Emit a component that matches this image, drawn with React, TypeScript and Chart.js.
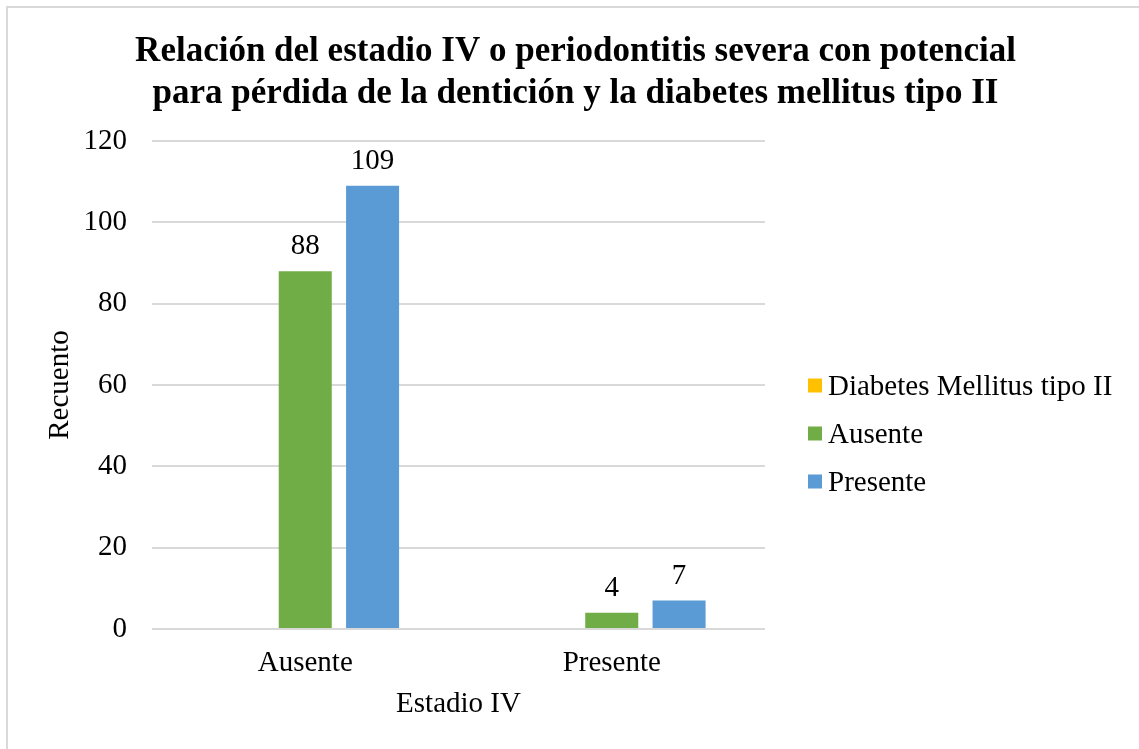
import React, { useEffect, useRef } from 'react';
import { Chart, registerables } from 'chart.js';

Chart.register(...registerables);

const categories = ['Ausente', 'Presente'];
const seriesNames = ['Diabetes Mellitus tipo II', 'Ausente', 'Presente'];
const diabetesValues: (number | null)[] = [null, null];
const ausenteValues: number[] = [88, 4];
const presenteValues: number[] = [109, 7];
const seriesColors = ['#FFC000', '#70AD47', '#5B9BD5'];
const yMin = 0;
const yMax = 120;
const yStep = 20;
const titleLines = [
  'Relación del estadio IV o periodontitis severa con potencial',
  'para pérdida de la dentición y la diabetes mellitus tipo II',
];
const xAxisTitle = 'Estadio IV';
const yAxisTitle = 'Recuento';

const FONT = "'Liberation Serif', 'Times New Roman', serif";

const valueLabelPlugin = {
  id: 'valueLabels',
  afterDatasetsDraw(chart: any) {
    const ctx = chart.ctx;
    ctx.save();
    ctx.font = `29px ${FONT}`;
    ctx.fillStyle = '#000';
    ctx.textAlign = 'center';
    ctx.textBaseline = 'alphabetic';
    chart.data.datasets.forEach((ds: any, i: number) => {
      const meta = chart.getDatasetMeta(i);
      meta.data.forEach((el: any, j: number) => {
        const v = ds.data[j];
        if (v === null || v === undefined) return;
        ctx.fillText(String(v), el.x, el.y - 17);
      });
    });
    ctx.restore();
  },
};

const legendPlugin = {
  id: 'sideLegend',
  afterDraw(chart: any) {
    const ctx = chart.ctx;
    const { right, top, bottom } = chart.chartArea;
    const startY = (top + bottom) / 2 + 0.5;
    ctx.save();
    ctx.font = `29px ${FONT}`;
    ctx.textAlign = 'left';
    ctx.textBaseline = 'alphabetic';
    chart.data.datasets.forEach((ds: any, i: number) => {
      const y = startY + i * 48;
      ctx.fillStyle = ds.backgroundColor;
      ctx.fillRect(right + 43, y - 7, 14, 14);
      ctx.fillStyle = '#000';
      ctx.fillText(ds.label, right + 63, y + 9.6);
    });
    ctx.restore();
  },
};

const titlePlugin = {
  id: 'wideTitle',
  afterDraw(chart: any) {
    const ctx = chart.ctx;
    const cx = (12 + chart.width) / 2;
    ctx.save();
    ctx.font = `bold 35px ${FONT}`;
    ctx.fillStyle = '#000';
    ctx.textAlign = 'center';
    ctx.textBaseline = 'alphabetic';
    titleLines.forEach((line, i) => {
      ctx.fillText(line, cx, 61 + i * 42);
    });
    ctx.restore();
  },
};

export default function App() {
  const canvasRef = useRef<HTMLCanvasElement | null>(null);

  useEffect(() => {
    if (!canvasRef.current) return;
    const chart = new Chart(canvasRef.current, {
      type: 'bar',
      data: {
        labels: categories,
        datasets: [
          { label: seriesNames[0], data: diabetesValues, backgroundColor: seriesColors[0] },
          { label: seriesNames[1], data: ausenteValues, backgroundColor: seriesColors[1] },
          { label: seriesNames[2], data: presenteValues, backgroundColor: seriesColors[2] },
        ],
      },
      options: {
        responsive: false,
        animation: false,
        devicePixelRatio: 1,
        layout: { padding: { left: 12, right: 374, top: 141, bottom: 0 } },
        datasets: {
          bar: { categoryPercentage: 0.659, barPercentage: 0.7875 },
        },
        plugins: {
          legend: { display: false },
          tooltip: { enabled: false },
          title: { display: false },
        },
        scales: {
          x: {
            grid: { display: false, drawTicks: false, tickLength: 0 },
            border: { display: false },
            ticks: { color: '#000', font: { family: FONT, size: 29 }, padding: 17 },
            title: {
              display: true,
              text: xAxisTitle,
              color: '#000',
              font: { family: FONT, size: 29 },
              padding: { top: 0, bottom: 27.4 },
            },
            afterFit(scale: any) {
              scale.height = 120;
            },
          },
          y: {
            min: yMin,
            max: yMax,
            grid: { color: '#d9d9d9', lineWidth: 2, drawTicks: false, tickLength: 0 },
            border: { display: false },
            ticks: { stepSize: yStep, color: '#000', font: { family: FONT, size: 29 }, padding: 25 },
            title: {
              display: true,
              text: yAxisTitle,
              color: '#000',
              font: { family: FONT, size: 29 },
              padding: { top: 30.6, bottom: 0 },
            },
            afterFit(scale: any) {
              scale.width = 140;
            },
          },
        },
      } as any,
      plugins: [valueLabelPlugin, legendPlugin, titlePlugin],
    });
    return () => chart.destroy();
  }, []);

  return (
    <div
      style={{
        position: 'fixed',
        left: 0,
        top: 0,
        width: 1139,
        height: 749,
        overflow: 'hidden',
        background: '#fff',
      }}
    >
      <div
        style={{
          position: 'absolute',
          left: 6,
          top: 6,
          width: 1200,
          height: 800,
          border: '2px solid #d9d9d9',
          boxSizing: 'border-box',
        }}
      />
      <canvas
        ref={canvasRef}
        width={1139}
        height={749}
        style={{ position: 'absolute', left: 0, top: 0, width: 1139, height: 749 }}
      />
    </div>
  );
}
